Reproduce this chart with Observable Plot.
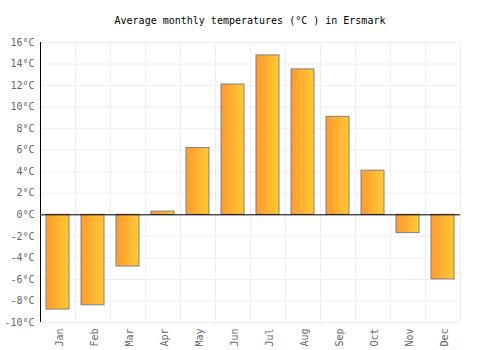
<!DOCTYPE html>
<html>
<head>
<meta charset="utf-8">
<script src="https://cdn.jsdelivr.net/npm/d3@7"></script>
<script src="https://cdn.jsdelivr.net/npm/@observablehq/plot@0.6"></script>
<style>
  body { margin: 0; background: #fff; }
  #chart { width: 500px; height: 350px; position: relative; }
  #title { position: absolute; top: 15px; left: 0; width: 500px; text-align: center;
    font-family: "DejaVu Sans Mono", monospace; font-size: 10px; color: #000; }
  #plot { position: absolute; top: 0; left: 0; }
</style>
</head>
<body>
<div id="chart">
  <div id="plot"></div>
  <div id="title">Average monthly temperatures (°C ) in Ersmark</div>
</div>
<script>
const months = ["Jan","Feb","Mar","Apr","May","Jun","Jul","Aug","Sep","Oct","Nov","Dec"];
const temps = [-8.8, -8.4, -4.8, 0.3, 6.2, 12.1, 14.8, 13.5, 9.1, 4.1, -1.7, -6.0];
const yTicks = [-10,-8,-6,-4,-2,0,2,4,6,8,10,12,14,16];

const data = months.map((m, i) => ({month: m, temp: temps[i]}));
const step = 35;

const chart = Plot.plot({
  width: 500,
  height: 350,
  marginLeft: 40,
  marginRight: 40,
  marginTop: 42,
  marginBottom: 28,
  style: {fontFamily: "DejaVu Sans Mono, monospace", fontSize: "10px", background: "#fff"},
  x: {domain: months, paddingInner: 0.34, paddingOuter: 0.17, label: null},
  y: {domain: [-10, 16], label: null},
  marks: [
    Plot.ruleY(yTicks, {stroke: "#eeeeee", strokeWidth: 1}),
    Plot.ruleX(months, {x: d => d, dx: -step / 2, stroke: "#eeeeee", strokeWidth: 1}),
    Plot.ruleX([months[months.length - 1]], {x: d => d, dx: step / 2, stroke: "#eeeeee", strokeWidth: 1}),
    Plot.barY(data, {x: "month", y: "temp", fill: "url(#barGrad)", stroke: "#808080", strokeWidth: 1}),
    Plot.ruleY([0], {stroke: "#000", strokeWidth: 1}),
    Plot.axisY({ticks: yTicks, tickFormat: d => d + "°C", tickSize: 0, tickPadding: 6, fill: "#666", fontSize: 10}),
    Plot.ruleX([months[0]], {x: d => d, dx: -step / 2, y1: -10, y2: 16, stroke: "#000", strokeWidth: 1}),
    Plot.axisX({tickSize: 0, tickRotate: -90, tickPadding: 6, fill: "#666", fontSize: 10, dx: 2})
  ]
});

const ns = "http://www.w3.org/2000/svg";
const defs = document.createElementNS(ns, "defs");
const grad = document.createElementNS(ns, "linearGradient");
grad.setAttribute("id", "barGrad");
grad.setAttribute("x1", "0"); grad.setAttribute("y1", "0");
grad.setAttribute("x2", "1"); grad.setAttribute("y2", "0");
[["0%", "#ff9a2e"], ["100%", "#ffc934"]].forEach(([o, c]) => {
  const s = document.createElementNS(ns, "stop");
  s.setAttribute("offset", o);
  s.setAttribute("stop-color", c);
  grad.appendChild(s);
});
defs.appendChild(grad);
chart.insertBefore(defs, chart.firstChild);

document.getElementById("plot").appendChild(chart);
</script>
</body>
</html>
